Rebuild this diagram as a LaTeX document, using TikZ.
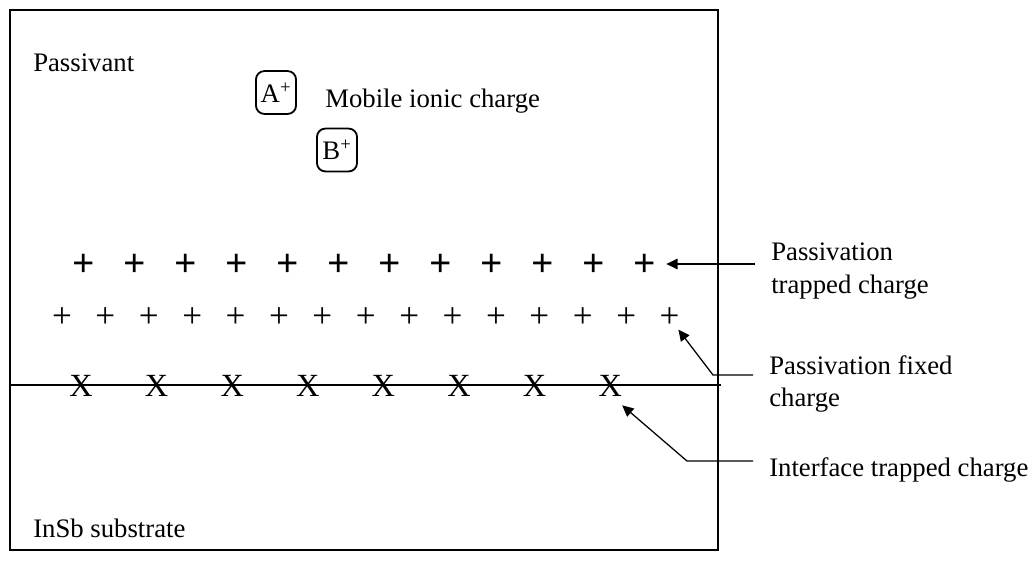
\documentclass[tikz,border=0pt]{standalone}
\usepackage{fontspec}
\setmainfont{Liberation Serif}
\usetikzlibrary{arrows.meta}

\begin{document}
\begin{tikzpicture}[x=0.025cm,y=-0.025cm,
  lbl/.style={font=\fontsize{19}{23.2}\selectfont,inner sep=0pt,align=left},
  ion/.style={draw,line width=1.3pt,rounded corners=6pt,inner sep=1pt,
    minimum width=28.5pt,minimum height=30.5pt,font=\fontsize{19}{22}\selectfont},
  bigplus/.style={inner sep=0pt,font=\fontsize{28}{28}\selectfont\bfseries},
  smallplus/.style={inner sep=0pt,font=\fontsize{25}{25}\selectfont},
  cross/.style={inner sep=0pt,font=\fontsize{23}{23}\selectfont},
  pointer/.style={line width=0.9pt,-{Triangle[length=8pt,width=7.5pt]}}]
  \useasboundingbox (0,0) rectangle (1036,560);
  % passivant layer on top of the substrate
  \draw[line width=1.4pt] (10,10) rectangle (718,550);
  \draw[line width=1.4pt] (10,385) -- (721,385);
  \node[lbl,anchor=base west] (passivant) at (33,71) {Passivant};
  \node[lbl,anchor=base west] (substrate) at (33,537) {InSb substrate};
  % mobile ions
  \node[ion] (ion-a) at (276,92.5) {A\textsuperscript{+}};
  \node[ion] (ion-b) at (337,150) {B\textsuperscript{+}};
  \node[lbl,anchor=base west] (mobile) at (325,107) {Mobile ionic charge};
  % charge rows
  \foreach \i in {0,...,11}
    \node[bigplus] (tp-\i) at (84+51*\i,265) {+};
  \foreach \i in {0,...,14}
    \node[smallplus] (fp-\i) at (62+43.4*\i,318) {+};
  \foreach \i in {0,...,7}
    \node[cross] (it-\i) at (81+75.6*\i,386) {X};
  % labels and pointers
  \node[lbl,anchor=north west] (tp-lbl) at (771,243) {Passivation\\trapped charge};
  \node[lbl,anchor=north west] (fp-lbl) at (769,355) {Passivation fixed\\charge};
  \node[lbl,anchor=base west] (it-lbl) at (769,476) {Interface trapped charge};
  \coordinate (tp-lead) at (755,264);
  \coordinate (fp-lead) at (753,375);
  \coordinate (it-lead) at (753,461);
  \draw[pointer] (tp-lead) -- ([xshift=7pt]tp-11.east |- tp-lead);
  \draw[pointer] (fp-lead) -- (713,375) -- ([shift={(-1pt,-1pt)}]fp-14.south east);
  \draw[pointer] (it-lead) -- (687,461) -- ([yshift=-6pt]it-7.south east);
\end{tikzpicture}
\end{document}
